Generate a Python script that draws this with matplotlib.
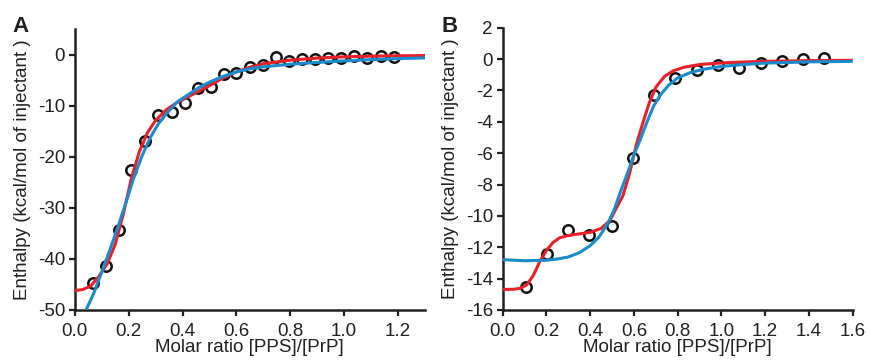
import matplotlib
matplotlib.use("Agg")
import matplotlib.pyplot as plt

plt.rcParams['font.family'] = ['Liberation Sans', 'DejaVu Sans']
plt.rcParams['axes.unicode_minus'] = False

# ---------------- Panel A data ----------------
a_x = [0.066, 0.116, 0.165, 0.21, 0.26, 0.31, 0.36, 0.41, 0.456, 0.505, 0.553, 0.60,
       0.65, 0.697, 0.747, 0.796, 0.843, 0.892, 0.941, 0.988, 1.037, 1.085, 1.135, 1.184]
a_y = [-44.8, -41.3, -34.3, -22.6, -16.9, -11.9, -11.2, -9.4, -6.5, -6.4, -3.8, -3.6,
       -2.5, -2.1, -0.5, -1.2, -0.8, -0.8, -0.7, -0.7, -0.3, -0.6, -0.2, -0.5]

a_red_x = [0.0, 0.03, 0.06, 0.09, 0.12, 0.15, 0.18, 0.21, 0.24, 0.27, 0.30, 0.34, 0.38,
           0.42, 0.46, 0.50, 0.55, 0.60, 0.65, 0.70, 0.80, 0.90, 1.00, 1.10, 1.20, 1.30]
a_red_y = [-46.2, -46.0, -45.3, -43.4, -41.0, -37.2, -31.3, -24.3, -19.0, -15.3, -12.9,
           -10.8, -9.4, -8.3, -7.2, -6.1, -4.6, -3.4, -2.5, -1.8, -1.1, -0.7, -0.45,
           -0.32, -0.25, -0.2]

a_blue_x = [0.042, 0.07, 0.10, 0.13, 0.16, 0.19, 0.22, 0.25, 0.28, 0.31, 0.34, 0.38,
            0.42, 0.46, 0.50, 0.55, 0.60, 0.65, 0.70, 0.80, 0.90, 1.00, 1.10, 1.20, 1.30]
a_blue_y = [-50.0, -46.8, -42.6, -38.3, -33.8, -29.0, -24.0, -19.8, -16.3, -13.6, -11.6,
            -9.3, -7.9, -6.5, -5.4, -4.3, -3.4, -2.8, -2.4, -1.9, -1.55, -1.25, -1.0,
            -0.8, -0.66]

# ---------------- Panel B data ----------------
b_x = [0.105, 0.204, 0.30, 0.396, 0.498, 0.594, 0.69, 0.788, 0.887, 0.986, 1.082,
       1.18, 1.278, 1.374, 1.47]
b_y = [-14.54, -12.4, -10.9, -11.24, -10.65, -6.29, -2.31, -1.19, -0.72, -0.4, -0.55,
       -0.23, -0.13, -0.02, 0.09]

b_red_x = [0.0, 0.05, 0.08, 0.11, 0.14, 0.17, 0.20, 0.23, 0.26, 0.30, 0.35, 0.40, 0.45,
           0.49, 0.52, 0.55, 0.58, 0.61, 0.64, 0.67, 0.70, 0.74, 0.78, 0.83, 0.90, 1.0,
           1.1, 1.2, 1.4, 1.6]
b_red_y = [-14.69, -14.68, -14.62, -14.4, -13.8, -12.9, -12.2, -11.7, -11.4, -11.25,
           -11.15, -11.05, -10.8, -10.3, -9.5, -8.7, -7.3, -5.5, -4.1, -2.8, -1.8, -1.1,
           -0.75, -0.52, -0.35, -0.25, -0.19, -0.15, -0.1, -0.08]

b_blue_x = [0.0, 0.1, 0.2, 0.25, 0.30, 0.35, 0.40, 0.44, 0.48, 0.51, 0.54, 0.57, 0.60,
            0.63, 0.66, 0.69, 0.72, 0.76, 0.80, 0.86, 0.92, 1.0, 1.1, 1.2, 1.4, 1.6]
b_blue_y = [-12.79, -12.86, -12.83, -12.75, -12.62, -12.35, -11.9, -11.35, -10.5, -9.6,
            -8.4, -7.3, -6.1, -5.1, -4.0, -3.0, -2.3, -1.65, -1.2, -0.85, -0.65, -0.47,
            -0.35, -0.26, -0.18, -0.15]

RED = '#e8202a'
BLUE = '#1a8bcb'
TXT = '#231f20'
FS = 13.5

fig = plt.figure(figsize=(8.70, 3.64), dpi=100)
axA = fig.add_axes([0.0859, 0.1484, 0.4026, 0.772])
axB = fig.add_axes([0.5778, 0.1484, 0.4023, 0.7756])


def style(ax):
    for s in ['top', 'right']:
        ax.spines[s].set_visible(False)
    for s in ['left', 'bottom']:
        ax.spines[s].set_linewidth(1.8)
        ax.spines[s].set_color(TXT)
    ax.tick_params(direction='out', length=4.5, width=1.6, colors=TXT,
                   labelsize=FS)
    ax.tick_params(axis='x', pad=5)
    ax.tick_params(axis='y', pad=2.5)
    ax.set_xlabel('Molar ratio [PPS]/[PrP]', fontsize=FS, color=TXT, labelpad=-1)
    ax.set_ylabel('Enthalpy (kcal/mol of injectant )', fontsize=FS, color=TXT)


for ax, px, py, rx, ry, bx, by in [
    (axA, a_x, a_y, a_red_x, a_red_y, a_blue_x, a_blue_y),
    (axB, b_x, b_y, b_red_x, b_red_y, b_blue_x, b_blue_y),
]:
    ax.plot(px, py, 'o', ms=7.5, mfc='none', mec='#111111', mew=1.8, zorder=2)
    ax.plot(rx, ry, '-', color=RED, lw=2.2, zorder=3, solid_capstyle='butt')
    ax.plot(bx, by, '-', color=BLUE, lw=2.2, zorder=4, solid_capstyle='butt')
    style(ax)

axA.set_xlim(0, 1.3)
axA.set_ylim(-50, 5)
axA.set_xticks([0.0, 0.2, 0.4, 0.6, 0.8, 1.0, 1.2])
axA.set_xticklabels(['0.0', '0.2', '0.4', '0.6', '0.8', '1.0', '1.2'])
axA.set_yticks([-50, -40, -30, -20, -10, 0])

axB.set_xlim(0, 1.6)
axB.set_ylim(-16, 2)
axB.set_xticks([0.0, 0.2, 0.4, 0.6, 0.8, 1.0, 1.2, 1.4, 1.6])
axB.set_xticklabels(['0.0', '0.2', '0.4', '0.6', '0.8', '1.0', '1.2', '1.4', '1.6'])
axB.set_yticks(list(range(-16, 3, 2)))

axA.yaxis.set_label_coords(-0.125, 0.5)
axB.yaxis.set_label_coords(-0.126, 0.5)

fig.text(0.014, 0.955, 'A', fontsize=16, fontweight='bold', color=TXT, va='top')
fig.text(0.508, 0.955, 'B', fontsize=16, fontweight='bold', color=TXT, va='top')

fig.savefig('out.png', dpi=100)
